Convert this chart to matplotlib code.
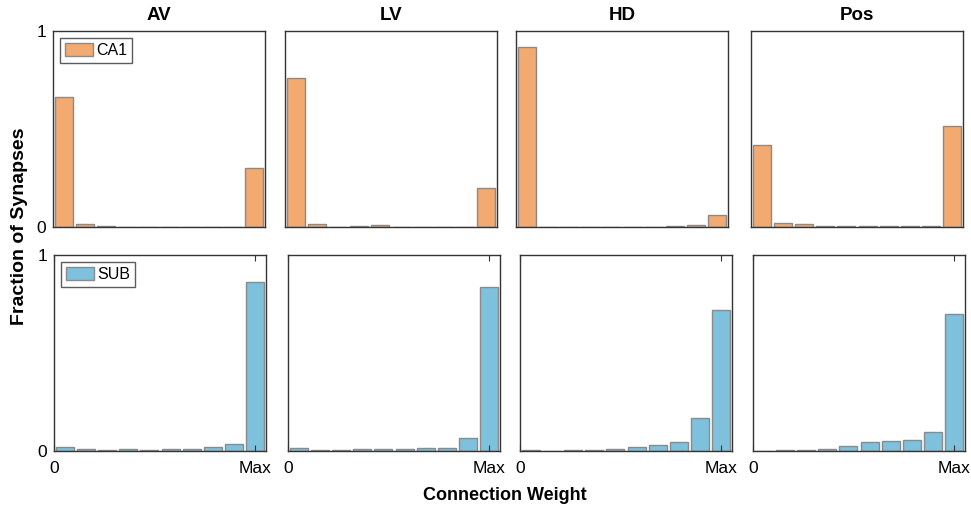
import matplotlib
matplotlib.use("Agg")
import matplotlib.pyplot as plt
import numpy as np

plt.rcParams['font.family'] = ['Liberation Sans', 'DejaVu Sans']

regions = ["AV", "LV", "HD", "Pos"]
bins = np.arange(1, 11)

ca1_av  = [0.663, 0.014, 0.005, 0.002, 0.001, 0.002, 0.002, 0.001, 0.001, 0.300]
ca1_lv  = [0.760, 0.013, 0.001, 0.005, 0.010, 0.002, 0.001, 0.001, 0.002, 0.200]
ca1_hd  = [0.920, 0.001, 0.001, 0.001, 0.001, 0.001, 0.001, 0.005, 0.008, 0.060]
ca1_pos = [0.420, 0.022, 0.015, 0.004, 0.005, 0.003, 0.003, 0.003, 0.003, 0.515]

sub_av  = [0.022, 0.008, 0.003, 0.010, 0.005, 0.012, 0.010, 0.020, 0.037, 0.860]
sub_lv  = [0.015, 0.005, 0.003, 0.012, 0.012, 0.010, 0.017, 0.017, 0.066, 0.839]
sub_hd  = [0.007, 0.000, 0.003, 0.007, 0.010, 0.022, 0.029, 0.044, 0.168, 0.717]
sub_pos = [0.000, 0.007, 0.005, 0.008, 0.024, 0.046, 0.049, 0.054, 0.098, 0.700]

ca1_data = [ca1_av, ca1_lv, ca1_hd, ca1_pos]
sub_data = [sub_av, sub_lv, sub_hd, sub_pos]

orange = "#F2AA70"
blue = "#7EC1DC"
edge = "#8a8a8a"

W, H = 971, 508
fig = plt.figure(figsize=(W / 100, H / 100), dpi=100)

top_lefts = [53, 285, 516, 751]
bot_lefts = [54, 288, 520, 753]
aw = 212

def make_ax(left, top, bottom):
    return fig.add_axes([left / W, 1 - bottom / H, aw / W, (bottom - top) / H])

for i in range(4):
    for row, (data, color, lefts, top, bottom, lab) in enumerate([
        (ca1_data, orange, top_lefts, 31, 227, "CA1"),
        (sub_data, blue, bot_lefts, 255, 451, "SUB")]):
        ax = make_ax(lefts[i], top, bottom)
        ax.bar(bins, data[i], width=0.84, color=color, edgecolor=edge,
               linewidth=1.0, label=lab)
        ax.set_xlim(0.5, 10.5)
        ax.set_ylim(0, 1)
        for s in ax.spines.values():
            s.set_color("#333333")
            s.set_linewidth(1.0)
        if i == 0:
            ax.set_yticks([0, 1])
            ax.set_yticklabels(["0", "1"], fontsize=12.5)
            ax.tick_params(axis='y', direction='in', length=0, pad=5)
            leg = ax.legend(loc='upper left', fontsize=11.5, frameon=True,
                            fancybox=False, handlelength=1.75, handleheight=0.8,
                            handletextpad=0.2, borderpad=0.3,
                            borderaxespad=0.45)
            leg.get_frame().set_edgecolor("#333333")
            leg.get_frame().set_linewidth(1.0)
        else:
            ax.set_yticks([])
        if row == 1:
            ax.set_xticks([0.5, 10])
            ax.set_xticklabels(["0", "Max"], fontsize=12.5)
            ax.tick_params(axis='x', direction='in', length=4, top=True,
                           pad=7, color="#333333")
        else:
            ax.set_xticks([])
            ax.set_title(regions[i], fontsize=13.5, fontweight='bold', pad=8)

fig.text(20 / W, 1 - 226 / H, "Fraction of Synapses", rotation=90,
         ha='center', va='center', fontsize=14, fontweight='bold')
fig.text(505 / W, 1 - 495 / H, "Connection Weight", ha='center',
         va='center', fontsize=13, fontweight='bold')

fig.savefig("out.png", dpi=100)
